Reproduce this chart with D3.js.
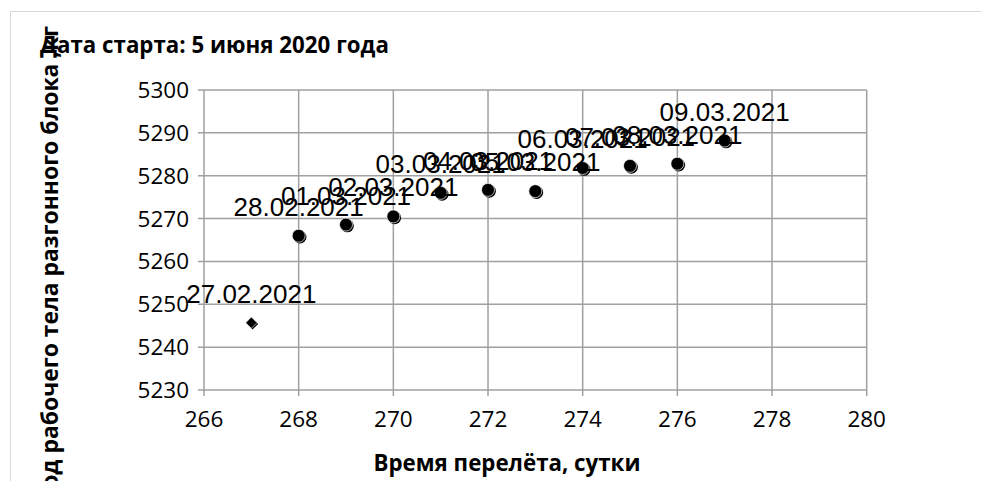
<!DOCTYPE html>
<html>
<head>
<meta charset="utf-8">
<script src="https://cdn.jsdelivr.net/npm/d3@7"></script>
<style>
  body { margin: 0; background: #fff; }
  svg { display: block; }
</style>
</head>
<body>
<svg id="chart" width="981" height="481"></svg>
<script>
// flight time, days
const days = [267, 268, 269, 270, 271, 272, 273, 274, 275, 276, 277];
// upper stage propellant mass, kg
const mass = [5245.7, 5266.0, 5268.6, 5270.5, 5276.0, 5276.7, 5276.4, 5281.8, 5282.3, 5282.8, 5288.2];
// arrival dates used as point labels
const dates = ["27.02.2021", "28.02.2021", "01.03.2021", "02.03.2021", "03.03.2021", "04.03.2021",
               "05.03.2021", "06.03.2021", "07.03.2021", "08.03.2021", "09.03.2021"];
const xTicks = [266, 268, 270, 272, 274, 276, 278, 280];
const yTicks = [5230, 5240, 5250, 5260, 5270, 5280, 5290, 5300];

const svg = d3.select("#chart");

const x = d3.scaleLinear().domain([266, 280]).range([204, 866.7]);
const y = d3.scaleLinear().domain([5230, 5300]).range([390, 90]);

// chart area border (only top and left are visible in the picture)
svg.append("rect")
    .attr("x", 10.5).attr("y", 11.5)
    .attr("width", 1000).attr("height", 1000)
    .attr("fill", "none")
    .attr("stroke", "#d9d9d9");

const gridColor = "#a0a0a0";

// gridlines
svg.append("g")
    .selectAll("line")
    .data(yTicks)
    .enter().append("line")
    .attr("x1", x(266) - 6).attr("x2", x(280))
    .attr("y1", d => y(d)).attr("y2", d => y(d))
    .attr("stroke", gridColor).attr("stroke-width", 1.5);

svg.append("g")
    .selectAll("line")
    .data(xTicks)
    .enter().append("line")
    .attr("x1", d => x(d)).attr("x2", d => x(d))
    .attr("y1", y(5300)).attr("y2", y(5230) + 6)
    .attr("stroke", gridColor).attr("stroke-width", 1.5);

// tick labels
const tickFont = "'Open Sans', sans-serif";
svg.append("g")
    .selectAll("text")
    .data(yTicks)
    .enter().append("text")
    .attr("x", x(266) - 15)
    .attr("y", d => y(d) + 8)
    .attr("text-anchor", "end")
    .style("font-family", tickFont)
    .style("font-size", "22.5px")
    .text(d => d);

svg.append("g")
    .selectAll("text")
    .data(xTicks)
    .enter().append("text")
    .attr("x", d => x(d))
    .attr("y", y(5230) + 37)
    .attr("text-anchor", "middle")
    .style("font-family", tickFont)
    .style("font-size", "22.5px")
    .text(d => d);

// titles
svg.append("text")
    .attr("x", 40).attr("y", 53)
    .style("font-family", tickFont)
    .style("font-weight", "bold")
    .style("font-size", "22.3px")
    .text("Дата старта: 5 июня 2020 года");

svg.append("text")
    .attr("x", 507).attr("y", 471)
    .attr("text-anchor", "middle")
    .style("font-family", tickFont)
    .style("font-weight", "bold")
    .style("font-size", "22.3px")
    .text("Время перелёта, сутки");

svg.append("text")
    .attr("transform", "translate(58,26) rotate(-90)")
    .attr("text-anchor", "end")
    .style("font-family", tickFont)
    .style("font-weight", "bold")
    .style("font-size", "22.9px")
    .text("Расход рабочего тела разгонного блока ,кг");

// points
const pts = days.map((d, i) => ({ day: d, m: mass[i], label: dates[i] }));

const marks = svg.append("g");
pts.forEach((p, i) => {
    const cx = x(p.day), cy = y(p.m);
    if (i === 0) {
        const dsym = d3.symbol().type(d3.symbolSquare).size(64);
        marks.append("path").attr("d", dsym())
            .attr("transform", `translate(${cx + 1.2},${cy + 1.2}) rotate(45)`)
            .attr("fill", "#000");
        marks.append("path").attr("d", dsym())
            .attr("transform", `translate(${cx},${cy}) rotate(45)`)
            .attr("fill", "#000").attr("stroke", "#fff").attr("stroke-width", 0.6);
    } else {
        marks.append("circle").attr("cx", cx + 1.3).attr("cy", cy + 1.3).attr("r", 6.5)
            .attr("fill", "#000");
        marks.append("circle").attr("cx", cx).attr("cy", cy).attr("r", 6.5)
            .attr("fill", "#000").attr("stroke", "#fff").attr("stroke-width", 0.7);
    }
});

// data labels
svg.append("g")
    .selectAll("text")
    .data(pts)
    .enter().append("text")
    .attr("x", d => x(d.day))
    .attr("y", d => y(d.m) - 20)
    .attr("text-anchor", "middle")
    .style("font-family", "'Liberation Sans', Arial, sans-serif")
    .style("font-size", "26px")
    .text(d => d.label);
</script>
</body>
</html>
